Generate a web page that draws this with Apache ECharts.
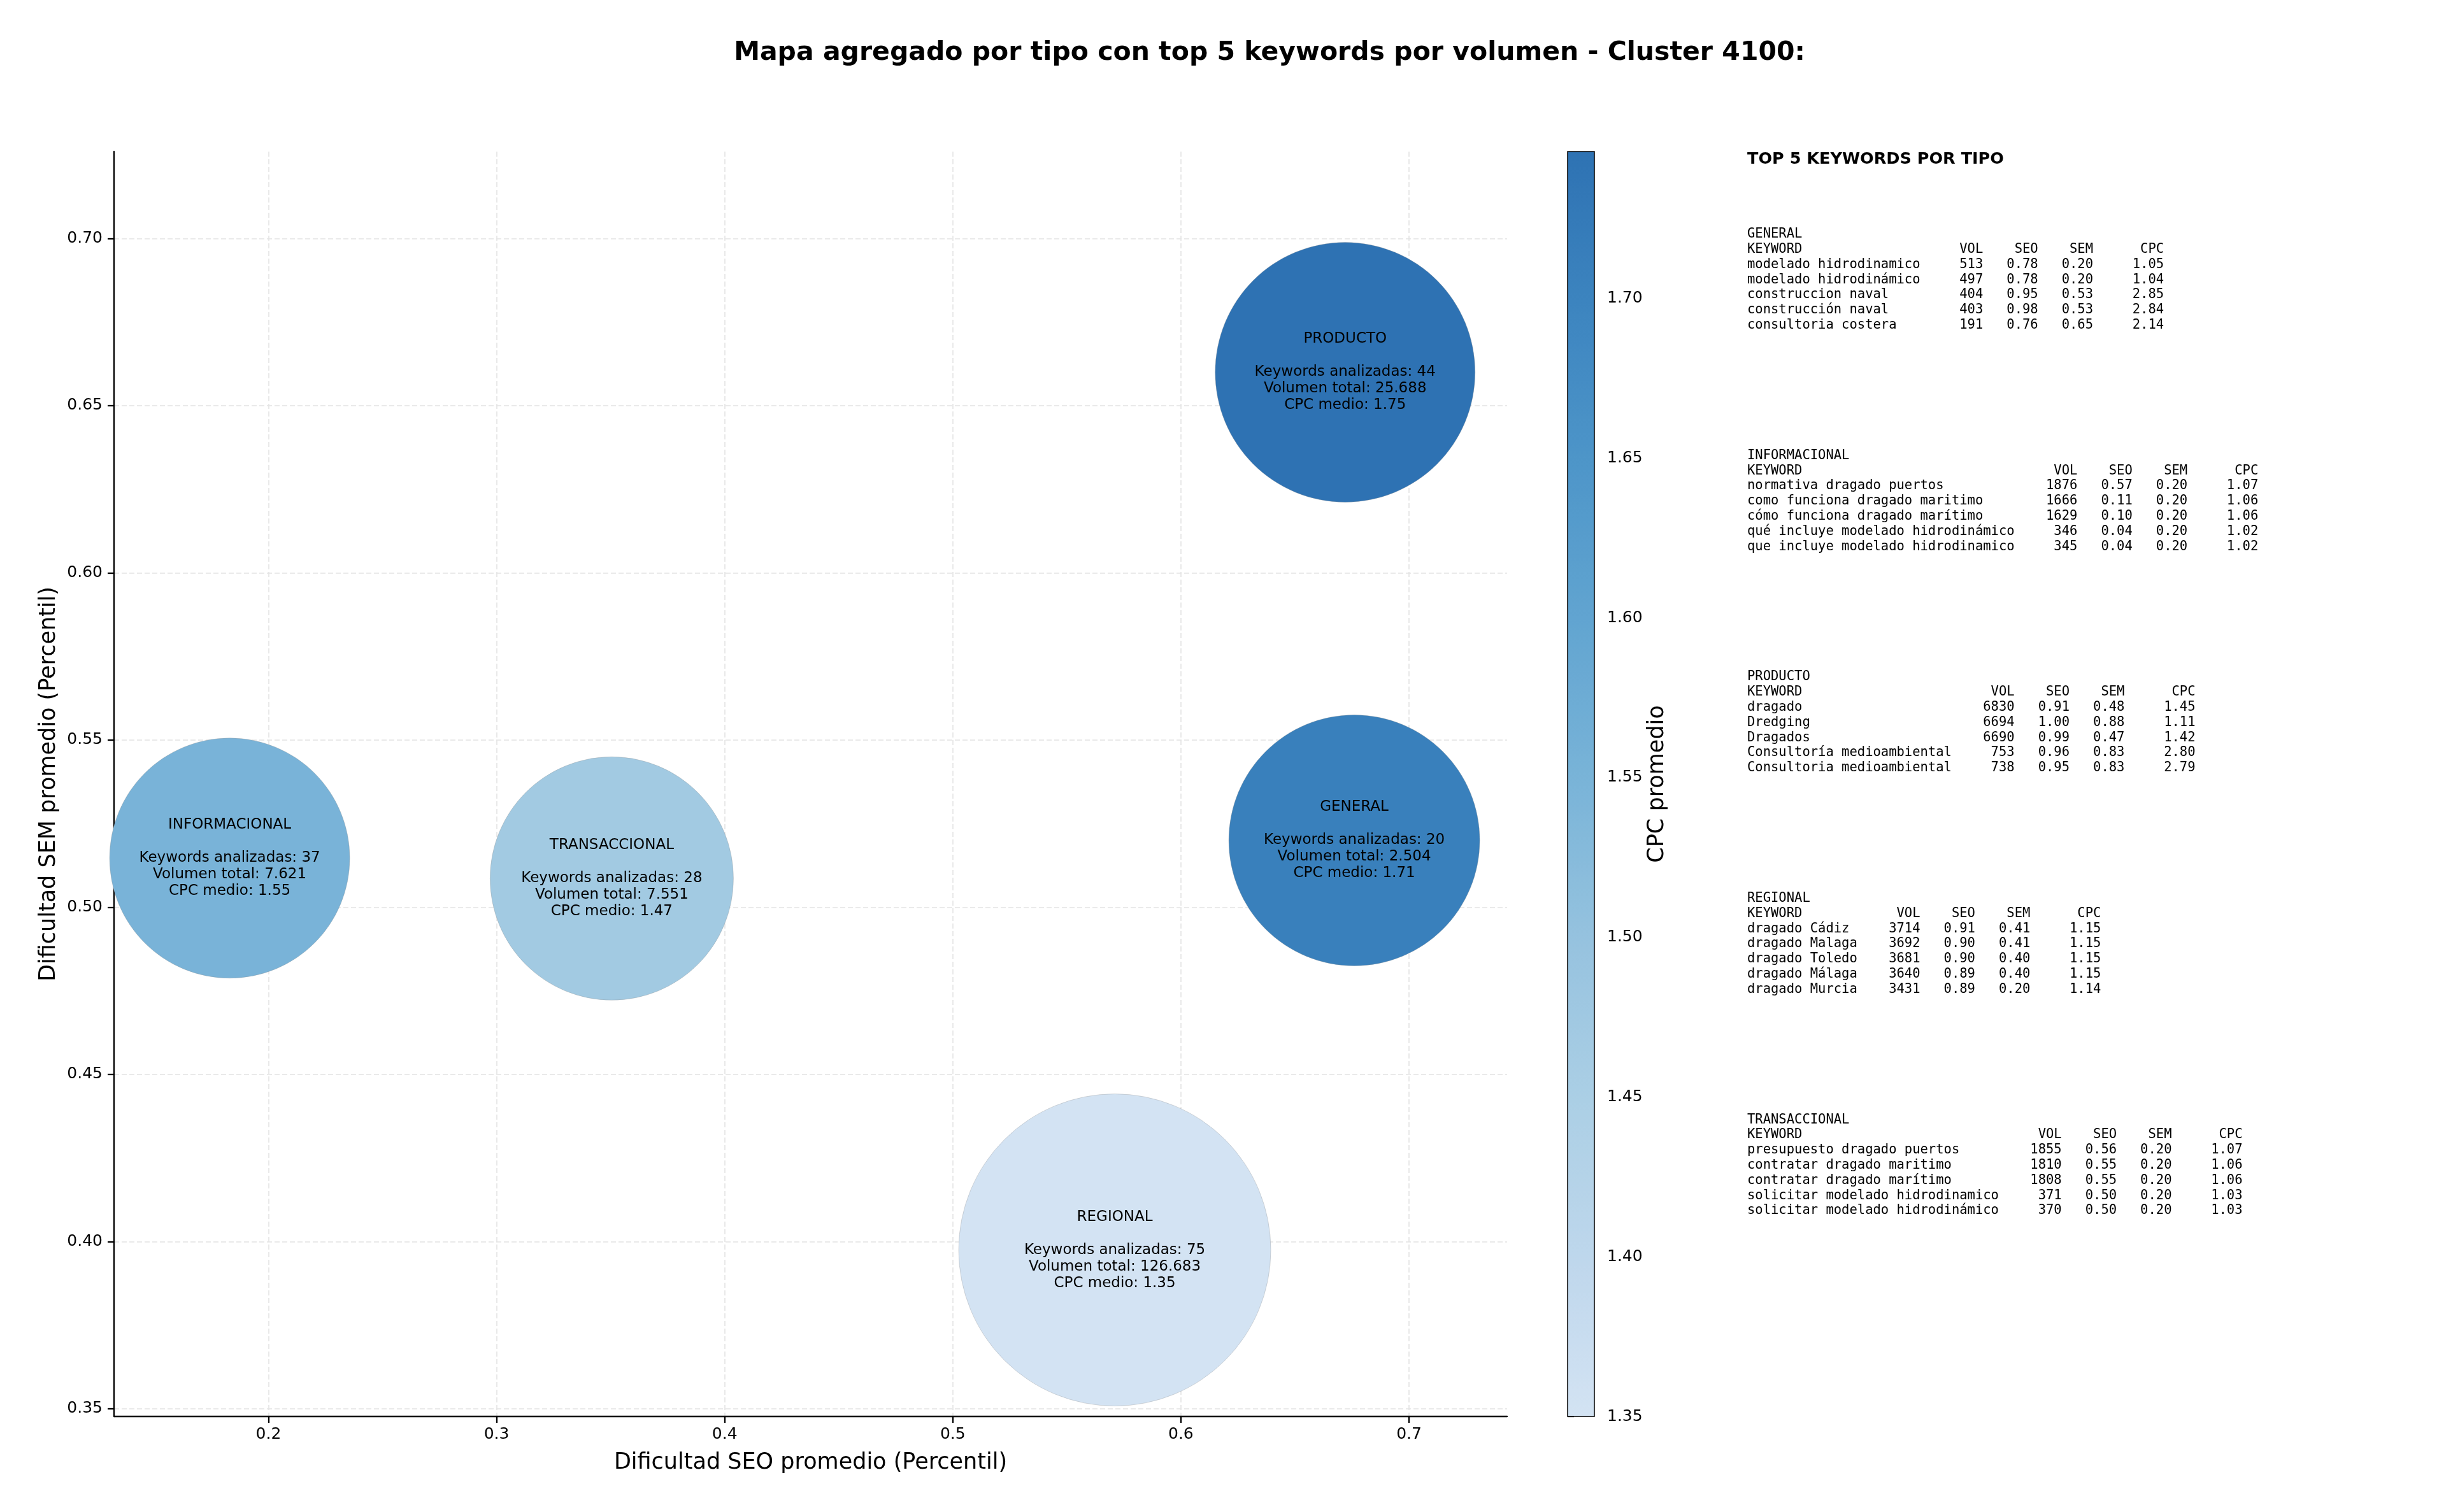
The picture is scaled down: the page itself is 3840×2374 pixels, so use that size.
<!DOCTYPE html>
<html><head><meta charset="utf-8">
<script src="https://cdn.jsdelivr.net/npm/echarts@6/dist/echarts.min.js"></script>
<style>html,body{margin:0;padding:0;background:#fff}#c{width:3840px;height:2374px}</style>
</head><body><div id="c"></div>
<script>
// ---- aggregated data per type ----
const types = ['GENERAL', 'INFORMACIONAL', 'PRODUCTO', 'REGIONAL', 'TRANSACCIONAL'];
const seoMean = [0.676, 0.183, 0.672, 0.571, 0.3505];
const semMean = [0.520, 0.5147, 0.660, 0.3975, 0.5086];
const kwCount = [20, 37, 44, 75, 28];
const volTotal = [2504, 7621, 25688, 126683, 7551];
const cpcMean = [1.71, 1.55, 1.746, 1.35, 1.47];
const bubbleSize = [394, 377, 408, 490, 382];

// ---- tick labels ----
const xTicks = [0.2, 0.3, 0.4, 0.5, 0.6, 0.7];
const yTicks = [0.35, 0.40, 0.45, 0.50, 0.55, 0.60, 0.65, 0.70];
const cbTicks = [1.35, 1.40, 1.45, 1.50, 1.55, 1.60, 1.65, 1.70];

// ---- top 5 keywords per type: [keyword, vol, seo, sem, cpc] ----
const topGeneral = [
  ['modelado hidrodinamico', 513, 0.78, 0.20, 1.05],
  ['modelado hidrodinámico', 497, 0.78, 0.20, 1.04],
  ['construccion naval', 404, 0.95, 0.53, 2.85],
  ['construcción naval', 403, 0.98, 0.53, 2.84],
  ['consultoria costera', 191, 0.76, 0.65, 2.14]
];
const topInformacional = [
  ['normativa dragado puertos', 1876, 0.57, 0.20, 1.07],
  ['como funciona dragado maritimo', 1666, 0.11, 0.20, 1.06],
  ['cómo funciona dragado marítimo', 1629, 0.10, 0.20, 1.06],
  ['qué incluye modelado hidrodinámico', 346, 0.04, 0.20, 1.02],
  ['que incluye modelado hidrodinamico', 345, 0.04, 0.20, 1.02]
];
const topProducto = [
  ['dragado', 6830, 0.91, 0.48, 1.45],
  ['Dredging', 6694, 1.00, 0.88, 1.11],
  ['Dragados', 6690, 0.99, 0.47, 1.42],
  ['Consultoría medioambiental', 753, 0.96, 0.83, 2.80],
  ['Consultoria medioambiental', 738, 0.95, 0.83, 2.79]
];
const topRegional = [
  ['dragado Cádiz', 3714, 0.91, 0.41, 1.15],
  ['dragado Malaga', 3692, 0.90, 0.41, 1.15],
  ['dragado Toledo', 3681, 0.90, 0.40, 1.15],
  ['dragado Málaga', 3640, 0.89, 0.40, 1.15],
  ['dragado Murcia', 3431, 0.89, 0.20, 1.14]
];
const topTransaccional = [
  ['presupuesto dragado puertos', 1855, 0.56, 0.20, 1.07],
  ['contratar dragado maritimo', 1810, 0.55, 0.20, 1.06],
  ['contratar dragado marítimo', 1808, 0.55, 0.20, 1.06],
  ['solicitar modelado hidrodinamico', 371, 0.50, 0.20, 1.03],
  ['solicitar modelado hidrodinámico', 370, 0.50, 0.20, 1.03]
];
const topTables = [topGeneral, topInformacional, topProducto, topRegional, topTransaccional];

// ---- helpers ----
function fmtThousands(v) { return String(v).replace(/\B(?=(\d{3})+(?!\d))/g, '.'); }
function buildTable(name, rows) {
  const w = Math.max(...rows.map(r => r[0].length));
  const lines = [name,
    'KEYWORD'.padEnd(w) + 'VOL'.padStart(8) + 'SEO'.padStart(7) + 'SEM'.padStart(7) + 'CPC'.padStart(9)];
  rows.forEach(r => {
    lines.push(r[0].padEnd(w) + String(r[1]).padStart(8) + r[2].toFixed(2).padStart(7) +
      r[3].toFixed(2).padStart(7) + r[4].toFixed(2).padStart(9));
  });
  return lines.join('\n');
}

const cbColors = ['#d3e3f3', '#bed7ec', '#abcfe5', '#96c3df', '#7ab4d8', '#62a5d1', '#4e96c9', '#3d85c0', '#2e72b3'];

const FONT = '"DejaVu Sans", "Liberation Sans", sans-serif';
const MONO = '"DejaVu Sans Mono", "Liberation Mono", monospace';

const graphics = [
  { type: 'text', x: 1993, y: 83, style: { text: 'Mapa agregado por tipo con top 5 keywords por volumen - Cluster 4100:',
    font: 'bold 41px ' + FONT, fill: '#000', align: 'center', verticalAlign: 'middle' } },
  { type: 'text', x: 2743, y: 250, style: { text: 'TOP 5 KEYWORDS POR TIPO',
    font: 'bold 25.5px ' + FONT, fill: '#000', align: 'left', verticalAlign: 'middle' } }
];
types.forEach((t, k) => {
  graphics.push({ type: 'text', x: 2743, y: 356 + k * 347.6, style: {
    text: buildTable(t, topTables[k]), font: '20.5px ' + MONO, fill: '#000',
    lineHeight: 23.8, align: 'left', verticalAlign: 'top' } });
});

const axisLineStyle = { color: '#000', width: 2.3 };
const gridLine = { show: true, lineStyle: { color: '#e4e4e4', width: 1.6, type: [8, 4] } };

const option = {
  backgroundColor: '#fff',
  animation: false,
  textStyle: { fontFamily: FONT },
  graphic: graphics,
  grid: [
    { left: 179, top: 238, width: 2187, height: 1986 },
    { left: 2461, top: 238, width: 42, height: 1986, show: true, borderColor: '#000', borderWidth: 1.5,
      backgroundColor: 'transparent', z: 10 }
  ],
  xAxis: [
    { type: 'value', gridIndex: 0, min: 0.1323, max: 0.743,
      name: 'Dificultad SEO promedio (Percentil)', nameLocation: 'middle', nameGap: 55,
      nameTextStyle: { fontSize: 35, color: '#000', fontFamily: FONT },
      axisLine: { show: true, onZero: false, lineStyle: axisLineStyle },
      axisTick: { show: true, length: 10, lineStyle: axisLineStyle, customValues: xTicks },
      axisLabel: { fontSize: 25, color: '#000', margin: 16, customValues: xTicks, formatter: v => v.toFixed(1) },
      splitLine: gridLine },
    { type: 'value', gridIndex: 1, min: 0, max: 1, show: false }
  ],
  yAxis: [
    { type: 'value', gridIndex: 0, min: 0.3477, max: 0.726,
      name: 'Dificultad SEM promedio (Percentil)', nameLocation: 'middle', nameGap: 85, nameRotate: 90,
      nameTextStyle: { fontSize: 35, color: '#000', fontFamily: FONT },
      axisLine: { show: true, onZero: false, lineStyle: axisLineStyle },
      axisTick: { show: true, length: 10, lineStyle: axisLineStyle, customValues: yTicks },
      axisLabel: { fontSize: 25, color: '#000', margin: 18, customValues: yTicks, formatter: v => v.toFixed(2) },
      splitLine: gridLine },
    { type: 'value', gridIndex: 1, min: 1.35, max: 1.746, position: 'right',
      name: 'CPC promedio', nameLocation: 'middle', nameGap: 81, nameRotate: 90,
      nameTextStyle: { fontSize: 35, color: '#000', fontFamily: FONT },
      axisLine: { show: false },
      axisTick: { show: true, length: 10, lineStyle: axisLineStyle, customValues: cbTicks },
      axisLabel: { fontSize: 25, color: '#000', margin: 20, customValues: cbTicks, formatter: v => v.toFixed(2) },
      splitLine: { show: false } }
  ],
  visualMap: {
    type: 'continuous', seriesIndex: 0, dimension: 2, min: 1.35, max: 1.746,
    left: 2461, top: 238, itemWidth: 42, itemHeight: 1986, padding: 0,
    calculable: false, text: null, hoverLink: false, orient: 'vertical',
    inRange: { color: cbColors }
  },
  series: [
    { type: 'scatter', xAxisIndex: 0, yAxisIndex: 0,
      data: types.map((t, i) => ({ name: t, value: [seoMean[i], semMean[i], cpcMean[i], bubbleSize[i]] })),
      symbol: 'circle',
      symbolSize: v => v[3],
      itemStyle: { opacity: 1, borderColor: 'rgba(150,150,150,0.35)', borderWidth: 1 },
      label: { show: true, position: 'inside', color: '#000', fontSize: 23, lineHeight: 26,
        fontFamily: FONT, align: 'center',
        formatter: p => {
          const i = p.dataIndex;
          return types[i] + '\n\nKeywords analizadas: ' + kwCount[i] +
            '\nVolumen total: ' + fmtThousands(volTotal[i]) +
            '\nCPC medio: ' + cpcMean[i].toFixed(2);
        } },
      emphasis: { disabled: true }
    },
    { type: 'scatter', xAxisIndex: 1, yAxisIndex: 1, data: [], silent: true }
  ]
};

const chart = echarts.init(document.getElementById('c'), null, { renderer: 'canvas', width: 3840, height: 2374 });
chart.setOption(option);
</script></body></html>
